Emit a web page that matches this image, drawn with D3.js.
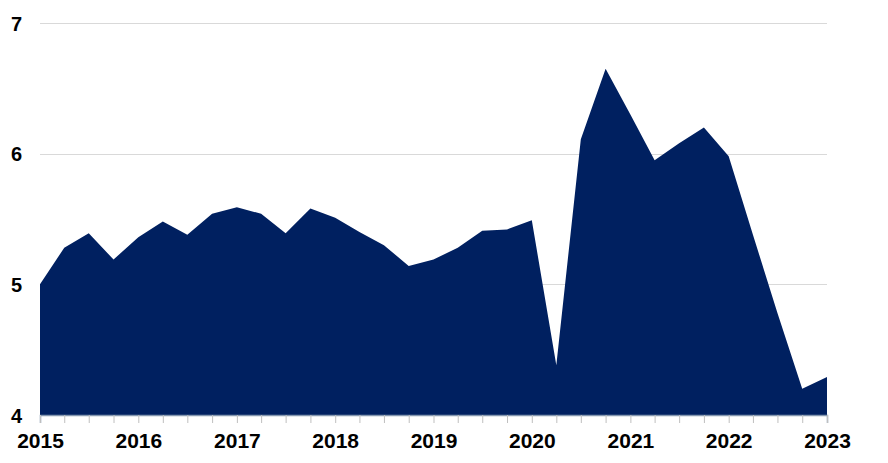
<!DOCTYPE html>
<html>
<head>
<meta charset="utf-8">
<script src="https://cdn.jsdelivr.net/npm/d3@7"></script>
<style>
  html, body { margin: 0; padding: 0; background: #fff; }
  svg { display: block; }
  text { font-family: "Liberation Sans", Arial, sans-serif; font-weight: bold; fill: #000; }
</style>
</head>
<body>
<svg id="chart" width="888" height="463"></svg>
<script>
// Quarter start dates (2015 Q1 .. 2023 Q1)
const quarters = [
  "2015-01-01","2015-04-01","2015-07-01","2015-10-01",
  "2016-01-01","2016-04-01","2016-07-01","2016-10-01",
  "2017-01-01","2017-04-01","2017-07-01","2017-10-01",
  "2018-01-01","2018-04-01","2018-07-01","2018-10-01",
  "2019-01-01","2019-04-01","2019-07-01","2019-10-01",
  "2020-01-01","2020-04-01","2020-07-01","2020-10-01",
  "2021-01-01","2021-04-01","2021-07-01","2021-10-01",
  "2022-01-01","2022-04-01","2022-07-01","2022-10-01",
  "2023-01-01"
];
const values = [
  5.00, 5.28, 5.39, 5.19,
  5.36, 5.48, 5.38, 5.54,
  5.59, 5.54, 5.39, 5.58,
  5.51, 5.40, 5.30, 5.14,
  5.19, 5.28, 5.41, 5.42,
  5.49, 4.38, 6.11, 6.65,
  6.30, 5.95, 6.08, 6.20,
  5.98, 5.38, 4.78, 4.20,
  4.29
];
const yearLabels = ["2015","2016","2017","2018","2019","2020","2021","2022","2023"];
const yTicks = [4, 5, 6, 7];

const parse = d3.timeParse("%Y-%m-%d");
const data = quarters.map((q, i) => ({ date: parse(q), value: values[i] }));

const margin = { left: 40, right: 61, top: 23, bottom: 48 };
const W = 888, H = 463;
const svg = d3.select("#chart");

const x = d3.scaleTime()
  .domain([parse("2015-01-01"), parse("2023-01-01")])
  .range([margin.left, W - margin.right]);
const y = d3.scaleLinear()
  .domain([4, 7])
  .range([H - margin.bottom, margin.top]);

// gridlines
svg.append("g")
  .selectAll("line")
  .data(yTicks.filter(d => d > 4))
  .join("line")
  .attr("x1", margin.left)
  .attr("x2", W - margin.right)
  .attr("y1", d => Math.round(y(d)) + 0.5)
  .attr("y2", d => Math.round(y(d)) + 0.5)
  .attr("stroke", "#d9d9d9")
  .attr("stroke-width", 1);

// area
const area = d3.area()
  .x(d => x(d.date))
  .y0(y(4))
  .y1(d => y(d.value));
svg.append("path")
  .datum(data)
  .attr("d", area)
  .attr("fill", "#002060");

// x axis: quarterly ticks, year labels
const xAxis = d3.axisBottom(x)
  .tickValues(data.map(d => d.date))
  .tickSize(8)
  .tickFormat(d => {
    const s = d3.timeFormat("%Y")(d);
    return (d.getMonth() === 0 && yearLabels.includes(s)) ? s : "";
  });
const gx = svg.append("g")
  .attr("transform", `translate(0,${y(4)})`)
  .call(xAxis);
gx.select(".domain").attr("stroke", "#8497b0").attr("stroke-width", 1.5);
gx.selectAll(".tick line").attr("stroke", "#bfbfbf");
gx.selectAll(".tick text")
  .attr("dy", 0)
  .attr("y", 33)
  .style("font-size", "21px")
  .style("font-family", "'Liberation Sans', Arial, sans-serif")
  .style("font-weight", "bold")
  .attr("fill", "#000");

// y axis labels
const yAxis = d3.axisLeft(y).tickValues(yTicks).tickSize(0).tickPadding(0).tickFormat(d3.format("d"));
const gy = svg.append("g")
  .attr("transform", `translate(22,0)`)
  .call(yAxis);
gy.select(".domain").remove();
gy.selectAll(".tick text")
  .attr("dy", "0.35em")
  .style("font-size", "20px")
  .style("font-family", "'Liberation Sans', Arial, sans-serif")
  .style("font-weight", "bold")
  .attr("fill", "#000");
</script>
</body>
</html>
